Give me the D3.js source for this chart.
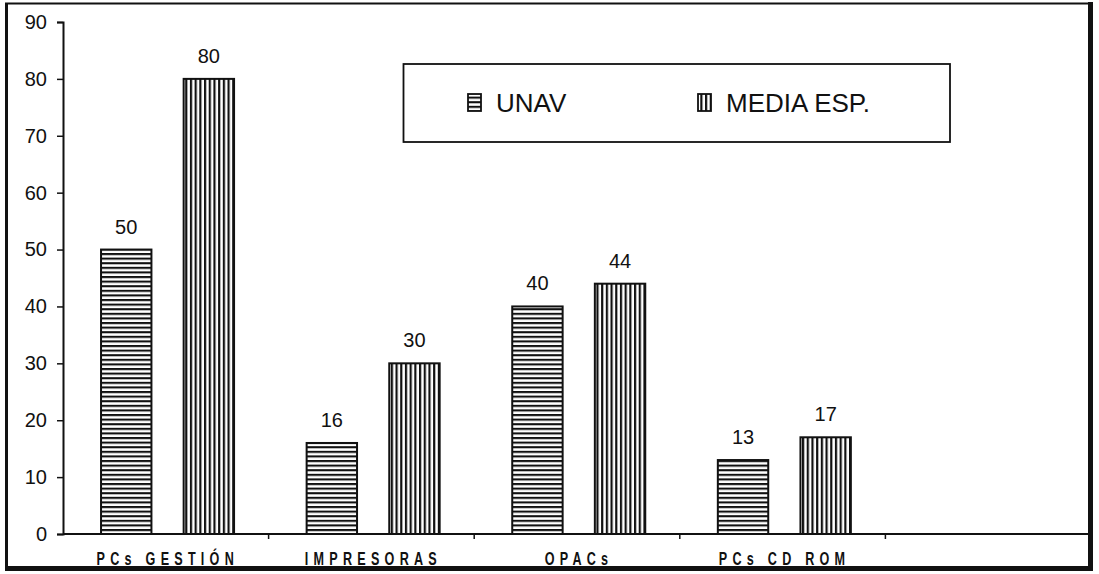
<!DOCTYPE html>
<html><head><meta charset="utf-8">
<script src="https://cdn.jsdelivr.net/npm/d3@7"></script>
<style>html,body{margin:0;padding:0;background:#fff}svg{display:block}</style>
</head><body>
<script>
const categories = ["PCs GESTIÓN", "IMPRESORAS", "OPACs", "PCs CD ROM", ""];
const seriesNames = ["UNAV", "MEDIA ESP."];
const unav = [50, 16, 40, 13];
const mediaEsp = [80, 30, 44, 17];
const yTicks = [0, 10, 20, 30, 40, 50, 60, 70, 80, 90];

const W = 1099, H = 574;
const svg = d3.select("body").append("svg").attr("width", W).attr("height", H);

const defs = svg.append("defs");
const ph = defs.append("pattern").attr("id", "pH").attr("patternUnits", "userSpaceOnUse")
  .attr("width", 10).attr("height", 4.6);
ph.append("rect").attr("width", 10).attr("height", 4.6).attr("fill", "#fff");
ph.append("rect").attr("y", 0).attr("width", 10).attr("height", 2.1).attr("fill", "#111");
const pv = defs.append("pattern").attr("id", "pV").attr("patternUnits", "userSpaceOnUse")
  .attr("width", 4.7).attr("height", 10);
pv.append("rect").attr("width", 4.7).attr("height", 10).attr("fill", "#fff");
pv.append("rect").attr("x", 0).attr("width", 2.2).attr("height", 10).attr("fill", "#111");
const fills = ["url(#pH)", "url(#pV)"];

const x0 = 63, x1 = 1091, yTop = 22, yBot = 534;
const x = d3.scaleBand().domain(categories).range([x0, x1]);
const bw = x.bandwidth();
const xs = d3.scaleBand().domain(seriesNames).range([0.185 * bw, 0.832 * bw]).paddingInner(0.39);
const y = d3.scaleLinear().domain([0, 90]).range([yBot, yTop]);

// frame
svg.append("line").attr("x1", 6.5).attr("x2", 6.5).attr("y1", 3).attr("y2", 569).attr("stroke", "#111").attr("stroke-width", 3);
svg.append("line").attr("x1", 5).attr("x2", 1092).attr("y1", 3.5).attr("y2", 3.5).attr("stroke", "#111").attr("stroke-width", 2);
svg.append("line").attr("x1", 1090.5).attr("x2", 1090.5).attr("y1", 2).attr("y2", 571).attr("stroke", "#111").attr("stroke-width", 5);
svg.append("line").attr("x1", 5).attr("x2", 1093).attr("y1", 568.5).attr("y2", 568.5).attr("stroke", "#111").attr("stroke-width", 5);

// y axis
const yAxis = d3.axisLeft(y).tickValues(yTicks).tickSize(6).tickPadding(10);
const ga = svg.append("g").attr("transform", `translate(${x0},0)`).call(yAxis);
ga.select(".domain").attr("stroke", "#111").attr("stroke-width", 2);
ga.selectAll(".tick line").attr("stroke", "#111").attr("stroke-width", 1.5);
ga.selectAll(".tick text").attr("font-family", "Liberation Sans, Arial, sans-serif")
  .attr("font-size", 20).attr("fill", "#111");

// bars
const data = categories.slice(0, 4).map((c, i) => ({ c, vals: [unav[i], mediaEsp[i]] }));
const groups = svg.append("g").selectAll("g").data(data).join("g")
  .attr("transform", d => `translate(${x(d.c)},0)`);
groups.selectAll("rect").data(d => d.vals.map((v, j) => ({ v, s: seriesNames[j], j })))
  .join("rect")
  .attr("x", d => xs(d.s)).attr("width", xs.bandwidth())
  .attr("y", d => y(d.v)).attr("height", d => y(0) - y(d.v))
  .attr("fill", d => fills[d.j]).attr("stroke", "#111").attr("stroke-width", 2);
groups.selectAll("text").data(d => d.vals.map((v, j) => ({ v, s: seriesNames[j] })))
  .join("text")
  .attr("x", d => xs(d.s) + xs.bandwidth() / 2).attr("y", d => y(d.v) - 16)
  .attr("text-anchor", "middle").attr("font-family", "Liberation Sans, Arial, sans-serif")
  .attr("font-size", 20).attr("fill", "#111").text(d => d.v);

// x axis
svg.append("line").attr("x1", x0).attr("x2", 1089).attr("y1", yBot).attr("y2", yBot)
  .attr("stroke", "#111").attr("stroke-width", 2);
svg.append("g").selectAll("line").data(categories.slice(1)).join("line")
  .attr("x1", d => x(d)).attr("x2", d => x(d)).attr("y1", yBot).attr("y2", yBot + 5)
  .attr("stroke", "#111").attr("stroke-width", 1.5);
svg.append("g").selectAll("text").data(categories.slice(0, 4)).join("text")
  .attr("transform", d => `translate(${x(d) + bw / 2 + 2},565) scale(0.7,1)`)
  .attr("text-anchor", "middle").attr("font-family", "Liberation Sans, Arial, sans-serif")
  .attr("font-weight", "bold").attr("font-size", 18).attr("letter-spacing", 7.5)
  .attr("fill", "#111").text(d => d);

// legend
const lg = svg.append("g");
lg.append("rect").attr("x", 403.5).attr("y", 64).attr("width", 546.5).attr("height", 78)
  .attr("fill", "#fff").attr("stroke", "#111").attr("stroke-width", 1.8);
const legX = [468, 698];
seriesNames.forEach((s, j) => {
  lg.append("rect").attr("x", legX[j]).attr("y", 94).attr("width", 13).attr("height", 17)
    .attr("fill", fills[j]).attr("stroke", "#111").attr("stroke-width", 1.8);
  lg.append("text").attr("x", legX[j] + 28).attr("y", 112)
    .attr("font-family", "Liberation Sans, Arial, sans-serif").attr("font-size", 26)
    .attr("fill", "#111").text(s);
});
</script>
</body></html>
